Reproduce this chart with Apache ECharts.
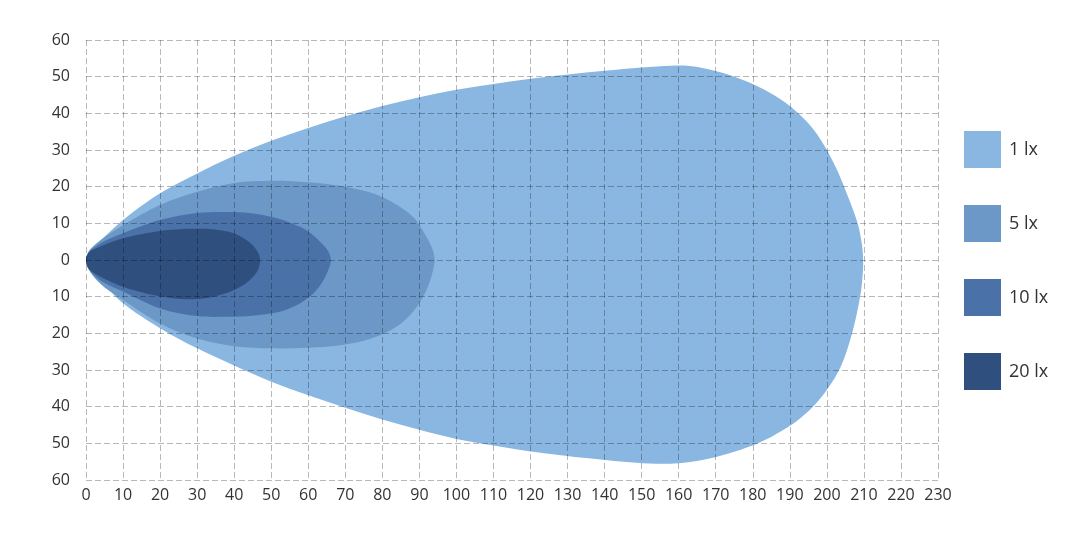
<!DOCTYPE html>
<html>
<head>
<meta charset="utf-8">
<script src="https://cdn.jsdelivr.net/npm/echarts@6/dist/echarts.min.js"></script>
<style>html,body{margin:0;padding:0;background:#fff;}#c{width:1071px;height:542px;}</style>
</head>
<body>
<div id="c"></div>
<script>
// Iso-lux contours (x: distance in m, y: lateral in m)
var levelNames = ['1 lx', '5 lx', '10 lx', '20 lx'];
var levelColors = ['#89b7e1', '#6b98c6', '#4a72a8', '#2f4f7e'];

var lux1 = [[0,0],[0.7,2.4],[3.8,5.2],[10,10.9],[20,18.2],[30,23.6],[40,28.4],[50,32.5],[60,36],[70,39.2],[80,42],[90,44.4],[100,46.4],[110,48],[120,49.4],[130,50.6],[140,51.6],[150,52.5],[158,53],[163,52.9],[168,52],[175,50],[180,48],[186,44.8],[190,42],[194,38.3],[197,34.8],[200,30],[203,24],[206,16.5],[208.3,10],[209.5,4],[209.8,-1],[209.4,-7],[208.7,-11.5],[206.8,-20],[203.8,-29],[200.3,-35],[197,-39.2],[193,-43],[188,-46.5],[182,-49.7],[175,-52.3],[168,-54.2],[160,-55.4],[152,-55.5],[145,-55],[135,-54],[120,-52.2],[110,-50.6],[100,-48.8],[90,-46.3],[80,-43.5],[70,-40.3],[60,-36.9],[50,-33.2],[40,-28.8],[30,-24.1],[20,-18.6],[10,-11.8],[3.8,-5.5],[0.7,-2.5]];
var lux5 = [[0,0],[0.7,2.2],[3.8,5.3],[10,9.5],[20,15],[30,18.6],[40,21],[50,21.6],[60,21.2],[70,20],[78,18],[84,15],[88.5,11.5],[91.5,7],[93.5,3],[94.1,0],[93.5,-3.5],[92,-8],[89.5,-12.5],[86,-16.5],[81,-19.8],[75,-22],[68,-23.3],[60,-23.9],[50,-24.1],[40,-23.5],[30,-21.4],[20,-17.3],[10,-10.9],[3.8,-6.4],[0.7,-2.5]];
var lux10 = [[0,0],[0.7,2],[3.8,4.5],[10,7.3],[20,10.9],[30,12.8],[38,13.1],[45,12.7],[51,11.5],[56,9.8],[60,7.8],[63.2,5],[65.3,2.5],[66.1,0],[65.3,-3],[63.5,-6.5],[61,-9.5],[57.5,-12],[52,-14.2],[45,-15.2],[38,-15.5],[30,-15.3],[20,-13.2],[10,-8.6],[3.8,-5.5],[0.7,-2.3]];
var lux20 = [[0,0],[0.7,2],[3.8,3.6],[10,5.9],[20,7.9],[28,8.5],[34,8.4],[38.5,7.7],[42,6.3],[44.5,4.5],[46.3,2.3],[47,0],[46.5,-2.5],[45,-4.7],[42.5,-6.8],[39,-8.6],[34.5,-10],[29,-10.7],[24,-10.5],[20,-9.9],[15,-8.8],[10,-7.3],[3.8,-4.5],[0.7,-2.3]];
var contours = [lux1, lux5, lux10, lux20];

var xMin = 0, xMax = 230, xStep = 10;
var yMin = -60, yMax = 60, yStep = 10;

var chart = echarts.init(document.getElementById('c'), null, {renderer: 'canvas'});

// closed centripetal Catmull-Rom curve through pixel points, as SVG path data
function closedSplinePath(p) {
  var n = p.length, a = 0.5;
  function dist(u, v) { var dx = u[0] - v[0], dy = u[1] - v[1]; return Math.pow(Math.sqrt(dx * dx + dy * dy), a) || 1e-6; }
  var s = 'M' + p[0][0] + ' ' + p[0][1];
  for (var i = 0; i < n; i++) {
    var p0 = p[(i - 1 + n) % n], p1 = p[i], p2 = p[(i + 1) % n], p3 = p[(i + 2) % n];
    var d1 = dist(p0, p1), d2 = dist(p1, p2), d3 = dist(p2, p3);
    var c1 = [], c2 = [];
    for (var k = 0; k < 2; k++) {
      c1[k] = (d1 * d1 * p2[k] - d2 * d2 * p0[k] + (2 * d1 * d1 + 3 * d1 * d2 + d2 * d2) * p1[k]) / (3 * d1 * (d1 + d2));
      c2[k] = (d3 * d3 * p1[k] - d2 * d2 * p3[k] + (2 * d3 * d3 + 3 * d3 * d2 + d2 * d2) * p2[k]) / (3 * d3 * (d3 + d2));
    }
    s += 'C' + c1[0] + ' ' + c1[1] + ' ' + c2[0] + ' ' + c2[1] + ' ' + p2[0] + ' ' + p2[1];
  }
  return s + 'Z';
}

function makeSeries(idx) {
  var pts = contours[idx];
  return {
    name: levelNames[idx],
    type: 'custom',
    coordinateSystem: 'cartesian2d',
    clip: false,
    silent: true,
    itemStyle: {color: levelColors[idx]},
    data: [[pts[0][0], pts[0][1]]],
    renderItem: function (params, api) {
      var p = pts.map(function (d) { return api.coord(d); });
      return {
        type: 'path',
        shape: {pathData: closedSplinePath(p)},
        style: {fill: levelColors[idx], stroke: null}
      };
    }
  };
}

var gridLine = {show: true, lineStyle: {color: 'rgba(0,0,0,0.28)', type: [6, 3], width: 1}};
var axisFont = {fontFamily: 'Open Sans', fontSize: 16, color: '#333'};

chart.setOption({
  animation: false,
  backgroundColor: '#fff',
  grid: {left: 86, right: 133, top: 40, bottom: 62, containLabel: false},
  xAxis: {
    type: 'value', min: xMin, max: xMax, interval: xStep, z: 10,
    axisLine: {show: false}, axisTick: {show: false},
    axisLabel: Object.assign({margin: 7}, axisFont),
    splitLine: gridLine
  },
  yAxis: {
    type: 'value', min: yMin, max: yMax, interval: yStep, z: 10,
    axisLine: {show: false}, axisTick: {show: false},
    axisLabel: Object.assign({margin: 16, formatter: function (v) { return String(Math.abs(v)); }}, axisFont),
    splitLine: gridLine
  },
  legend: {
    orient: 'vertical', left: 964, top: 131, padding: 0,
    itemWidth: 37, itemHeight: 37, itemGap: 37, icon: 'rect',
    selectedMode: false,
    textStyle: {fontFamily: 'Open Sans', fontSize: 18, color: '#333', padding: [0, 0, 0, 3]},
    data: levelNames.map(function (n, i) { return {name: n, itemStyle: {color: levelColors[i]}}; })
  },
  series: [0, 1, 2, 3].map(makeSeries)
});
</script>
</body>
</html>
